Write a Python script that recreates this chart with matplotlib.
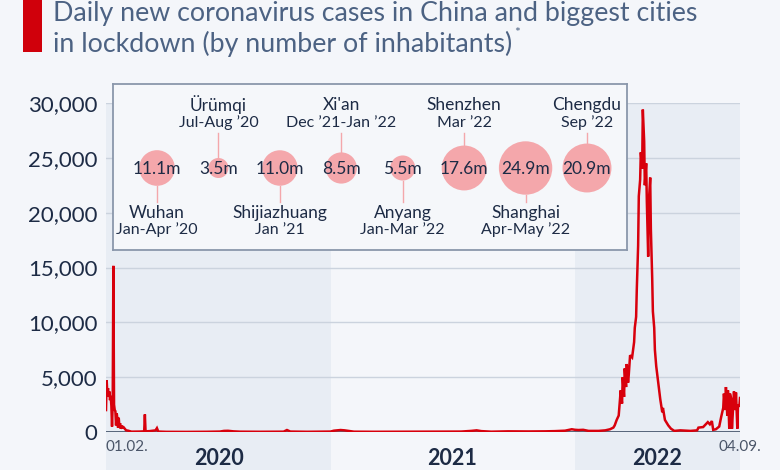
import numpy as np
import pandas as pd
import matplotlib
matplotlib.use("Agg")
import matplotlib.pyplot as plt
from matplotlib.patches import Rectangle
import matplotlib.transforms as mtransforms

plt.rcParams['font.family'] = ['Lato', 'DejaVu Sans']

W, H = 780, 470
BG = "#f4f6fa"
SHADE = "#e8edf4"
GRID = "#cbd3de"
RED = "#d8000c"
NAVY = "#1d2b45"
TITLE_C = "#4c6283"
PINK = "#f4a7ab"

# daily new cases
dates = [
    "2020-02-01", "2020-02-02", "2020-02-03", "2020-02-04", "2020-02-05", "2020-02-06",
    "2020-02-07", "2020-02-08", "2020-02-09", "2020-02-10", "2020-02-11", "2020-02-12",
    "2020-02-13", "2020-02-14", "2020-02-15", "2020-02-16", "2020-02-17", "2020-02-18",
    "2020-02-19", "2020-02-20", "2020-02-21", "2020-02-22", "2020-02-23", "2020-02-24",
    "2020-02-25", "2020-02-27", "2020-02-29", "2020-03-02", "2020-03-05", "2020-03-10",
    "2020-03-22", "2020-03-29", "2020-03-30", "2020-03-31", "2020-04-06", "2020-04-11",
    "2020-04-15", "2020-04-17", "2020-04-19", "2020-05-01", "2020-05-31", "2020-06-30",
    "2020-07-20", "2020-07-26", "2020-08-01", "2020-08-09", "2020-08-19", "2020-09-18",
    "2020-10-23", "2020-10-28", "2020-11-02", "2020-11-27", "2020-12-17", "2021-01-01",
    "2021-01-06", "2021-01-11", "2021-01-16", "2021-01-22", "2021-01-28", "2021-02-05",
    "2021-03-07", "2021-04-26", "2021-05-26", "2021-06-15", "2021-07-15", "2021-07-30",
    "2021-08-07", "2021-08-14", "2021-08-29", "2021-09-23", "2021-10-23", "2021-11-17",
    "2021-12-02", "2021-12-17", "2021-12-27", "2022-01-01", "2022-01-06", "2022-01-13",
    "2022-01-21", "2022-02-05", "2022-02-15", "2022-02-22", "2022-02-27", "2022-03-01",
    "2022-03-04", "2022-03-07", "2022-03-10", "2022-03-12", "2022-03-13", "2022-03-15",
    "2022-03-16", "2022-03-18", "2022-03-19", "2022-03-21", "2022-03-22", "2022-03-24",
    "2022-03-27", "2022-03-30", "2022-03-31", "2022-04-02", "2022-04-03", "2022-04-05",
    "2022-04-06", "2022-04-08", "2022-04-09", "2022-04-11", "2022-04-12", "2022-04-14",
    "2022-04-15", "2022-04-17", "2022-04-18", "2022-04-20", "2022-04-21", "2022-04-23",
    "2022-04-24", "2022-04-26", "2022-04-27", "2022-04-29", "2022-04-30", "2022-05-02",
    "2022-05-05", "2022-05-08", "2022-05-11", "2022-05-12", "2022-05-15", "2022-05-20",
    "2022-05-24", "2022-05-29", "2022-06-07", "2022-06-22", "2022-07-02", "2022-07-04",
    "2022-07-11", "2022-07-15", "2022-07-18", "2022-07-21", "2022-07-24", "2022-07-26",
    "2022-07-30", "2022-08-04", "2022-08-07", "2022-08-10", "2022-08-11", "2022-08-13",
    "2022-08-14", "2022-08-16", "2022-08-17", "2022-08-19", "2022-08-20", "2022-08-22",
    "2022-08-23", "2022-08-26", "2022-08-28", "2022-08-29", "2022-08-31", "2022-09-01",
    "2022-09-03", "2022-09-04",
]
cases = [
    2000, 4700, 3500, 4000, 3200, 3700,
    2900, 3300, 2400, 500, 2600, 15150,
    2500, 2000, 1900, 600, 1700, 1200,
    400, 1300, 500, 800, 300, 600,
    400, 450, 300, 150, 120, 30,
    40, 60, 1600, 60, 80, 120,
    150, 350, 40, 15, 10, 20,
    40, 100, 110, 60, 30, 20,
    30, 180, 40, 20, 30, 40,
    120, 150, 180, 150, 100, 30,
    20, 25, 30, 40, 40, 100,
    150, 80, 30, 60, 50, 60,
    80, 120, 250, 200, 180, 200,
    100, 100, 150, 250, 400, 600,
    1100, 1500, 3800, 2600, 5000, 3200,
    5800, 4100, 6200, 4500, 5200, 7000,
    6800, 8200, 9500, 10500, 13000, 17000,
    21500, 23000, 25500, 24000, 29400, 26500,
    22500, 24500, 21000, 16000, 21000, 23200,
    18500, 14000, 11000, 9500, 7500, 6000,
    4500, 3000, 1800, 2200, 1100, 600,
    300, 100, 150, 100, 150, 400,
    450, 700, 900, 700, 1000, 200,
    250, 500, 1400, 2200, 3500, 2000,
    4100, 1500, 3800, 300, 3500, 3000,
    300, 3700, 2000, 3600, 300, 2500,
    2300, 3100,
]

# lockdown cities
cities = ["Wuhan", "Ürümqi", "Shijiazhuang", "Xi'an", "Anyang", "Shenzhen", "Shanghai", "Chengdu"]
periods = ["Jan-Apr ’20", "Jul-Aug ’20", "Jan ’21", "Dec ’21-Jan ’22", "Jan-Mar ’22",
           "Mar ’22", "Apr-May ’22", "Sep ’22"]
inhabitants = [11.1, 3.5, 11.0, 8.5, 5.5, 17.6, 24.9, 20.9]

yticks = [0, 5000, 10000, 15000, 20000, 25000, 30000]
years = ["2020", "2021", "2022"]

t = pd.to_datetime(dates)
start, end = pd.Timestamp("2020-02-01"), pd.Timestamp("2022-09-04")

fig = plt.figure(figsize=(W / 100, H / 100), dpi=100, facecolor=BG)


def fx(px):
    return px / W


def fy(py):
    return 1 - py / H


# main axes
ax = fig.add_axes([fx(106), fy(432), fx(740) - fx(106), fy(103) - fy(432)])
ax.set_facecolor(BG)
ax.set_xlim(start, end)
ax.set_ylim(0, 30000)
for s in ax.spines.values():
    s.set_visible(False)

trans = mtransforms.blended_transform_factory(ax.transData, ax.transAxes)
bot = -(470 - 432) / (432 - 103)
for a, b in [(start, pd.Timestamp("2021-01-01")), (pd.Timestamp("2022-01-01"), end)]:
    x0 = matplotlib.dates.date2num(a)
    x1 = matplotlib.dates.date2num(b)
    ax.add_patch(Rectangle((x0, bot), x1 - x0, 1 - bot, transform=trans,
                           facecolor=SHADE, edgecolor="none", zorder=0, clip_on=False))

ax.set_yticks(yticks)
ax.set_yticklabels([f"{v:,}" for v in yticks])
ax.tick_params(axis="y", length=0, pad=6, labelsize=16, labelcolor=NAVY)
ax.set_xticks([])
ax.grid(axis="y", color=GRID, lw=1, zorder=1)
ax.axhline(0, color="#4b5a70", lw=1.3, zorder=2)
ax.plot(t, cases, color=RED, lw=1.8, zorder=3, solid_joinstyle="miter")

# x labels
year_mid = [pd.Timestamp("2020-07-18"), pd.Timestamp("2021-07-02"), pd.Timestamp("2022-05-03")]
for y, m in zip(years, year_mid):
    ax.text(m, bot + 0.035, y, transform=trans, ha="center", va="center",
            fontsize=15.5, fontweight="bold", color=NAVY)
ax.text(start, -0.045, "01.02.", transform=trans, ha="left", va="center",
        fontsize=11, color="#4a5568")
ax.text(end, -0.045, "04.09.", transform=trans, ha="center", va="center",
        fontsize=11, color="#4a5568")

# inset box with the cities
box = fig.add_axes([fx(113), fy(250), fx(627) - fx(113), fy(84) - fy(250)], zorder=5)
box.set_facecolor("#f5f7fa")
for s in box.spines.values():
    s.set_color("#8a97ab")
    s.set_linewidth(1.3)
box.set_xticks([])
box.set_yticks([])
step = (587 - 157) / 7
box.set_xlim((113 - 157) / step, (627 - 157) / step)
box.set_ylim(250, 84)

cy = 168
pos = np.arange(len(cities))
r_px = 5.35 * np.sqrt(inhabitants)
box.scatter(pos, [cy] * len(pos), s=(2 * r_px * 0.72) ** 2, color=PINK, lw=0, zorder=2)
for i, (c, p, v) in enumerate(zip(cities, periods, inhabitants)):
    box.text(i, cy + 1, f"{v:.1f}m", ha="center", va="center", fontsize=12.5, color=NAVY, zorder=3)
    if i % 2 == 0:
        box.plot([i, i], [cy + r_px[i], 202], color=PINK, lw=1, zorder=1)
        box.text(i, 213, c, ha="center", va="center", fontsize=12.5, color=NAVY)
        box.text(i, 230, p, ha="center", va="center", fontsize=11.5, color=NAVY)
    else:
        box.plot([i, i], [133, cy - r_px[i]], color=PINK, lw=1, zorder=1)
        box.text(i, 105, c, ha="center", va="center", fontsize=12.5, color=NAVY)
        box.text(i, 123, p, ha="center", va="center", fontsize=11.5, color=NAVY)

# title
fig.patches.append(Rectangle((fx(23), fy(52)), fx(42) - fx(23), fy(0) - fy(52),
                             transform=fig.transFigure, facecolor="#d0000b", edgecolor="none"))
fig.text(fx(53), fy(21), "Daily new coronavirus cases in China and biggest cities",
         fontsize=19.3, color=TITLE_C, va="baseline", ha="left")
t2 = fig.text(fx(53), fy(52), "in lockdown (by number of inhabitants)",
              fontsize=19.3, color=TITLE_C, va="baseline", ha="left")
fig.canvas.draw()
bb = t2.get_window_extent()
fig.text(bb.x1 / W + 0.002, fy(52) + 0.032, "*", fontsize=10, color=TITLE_C,
         va="baseline", ha="left")

fig.savefig("out.png", dpi=100, facecolor=BG)
